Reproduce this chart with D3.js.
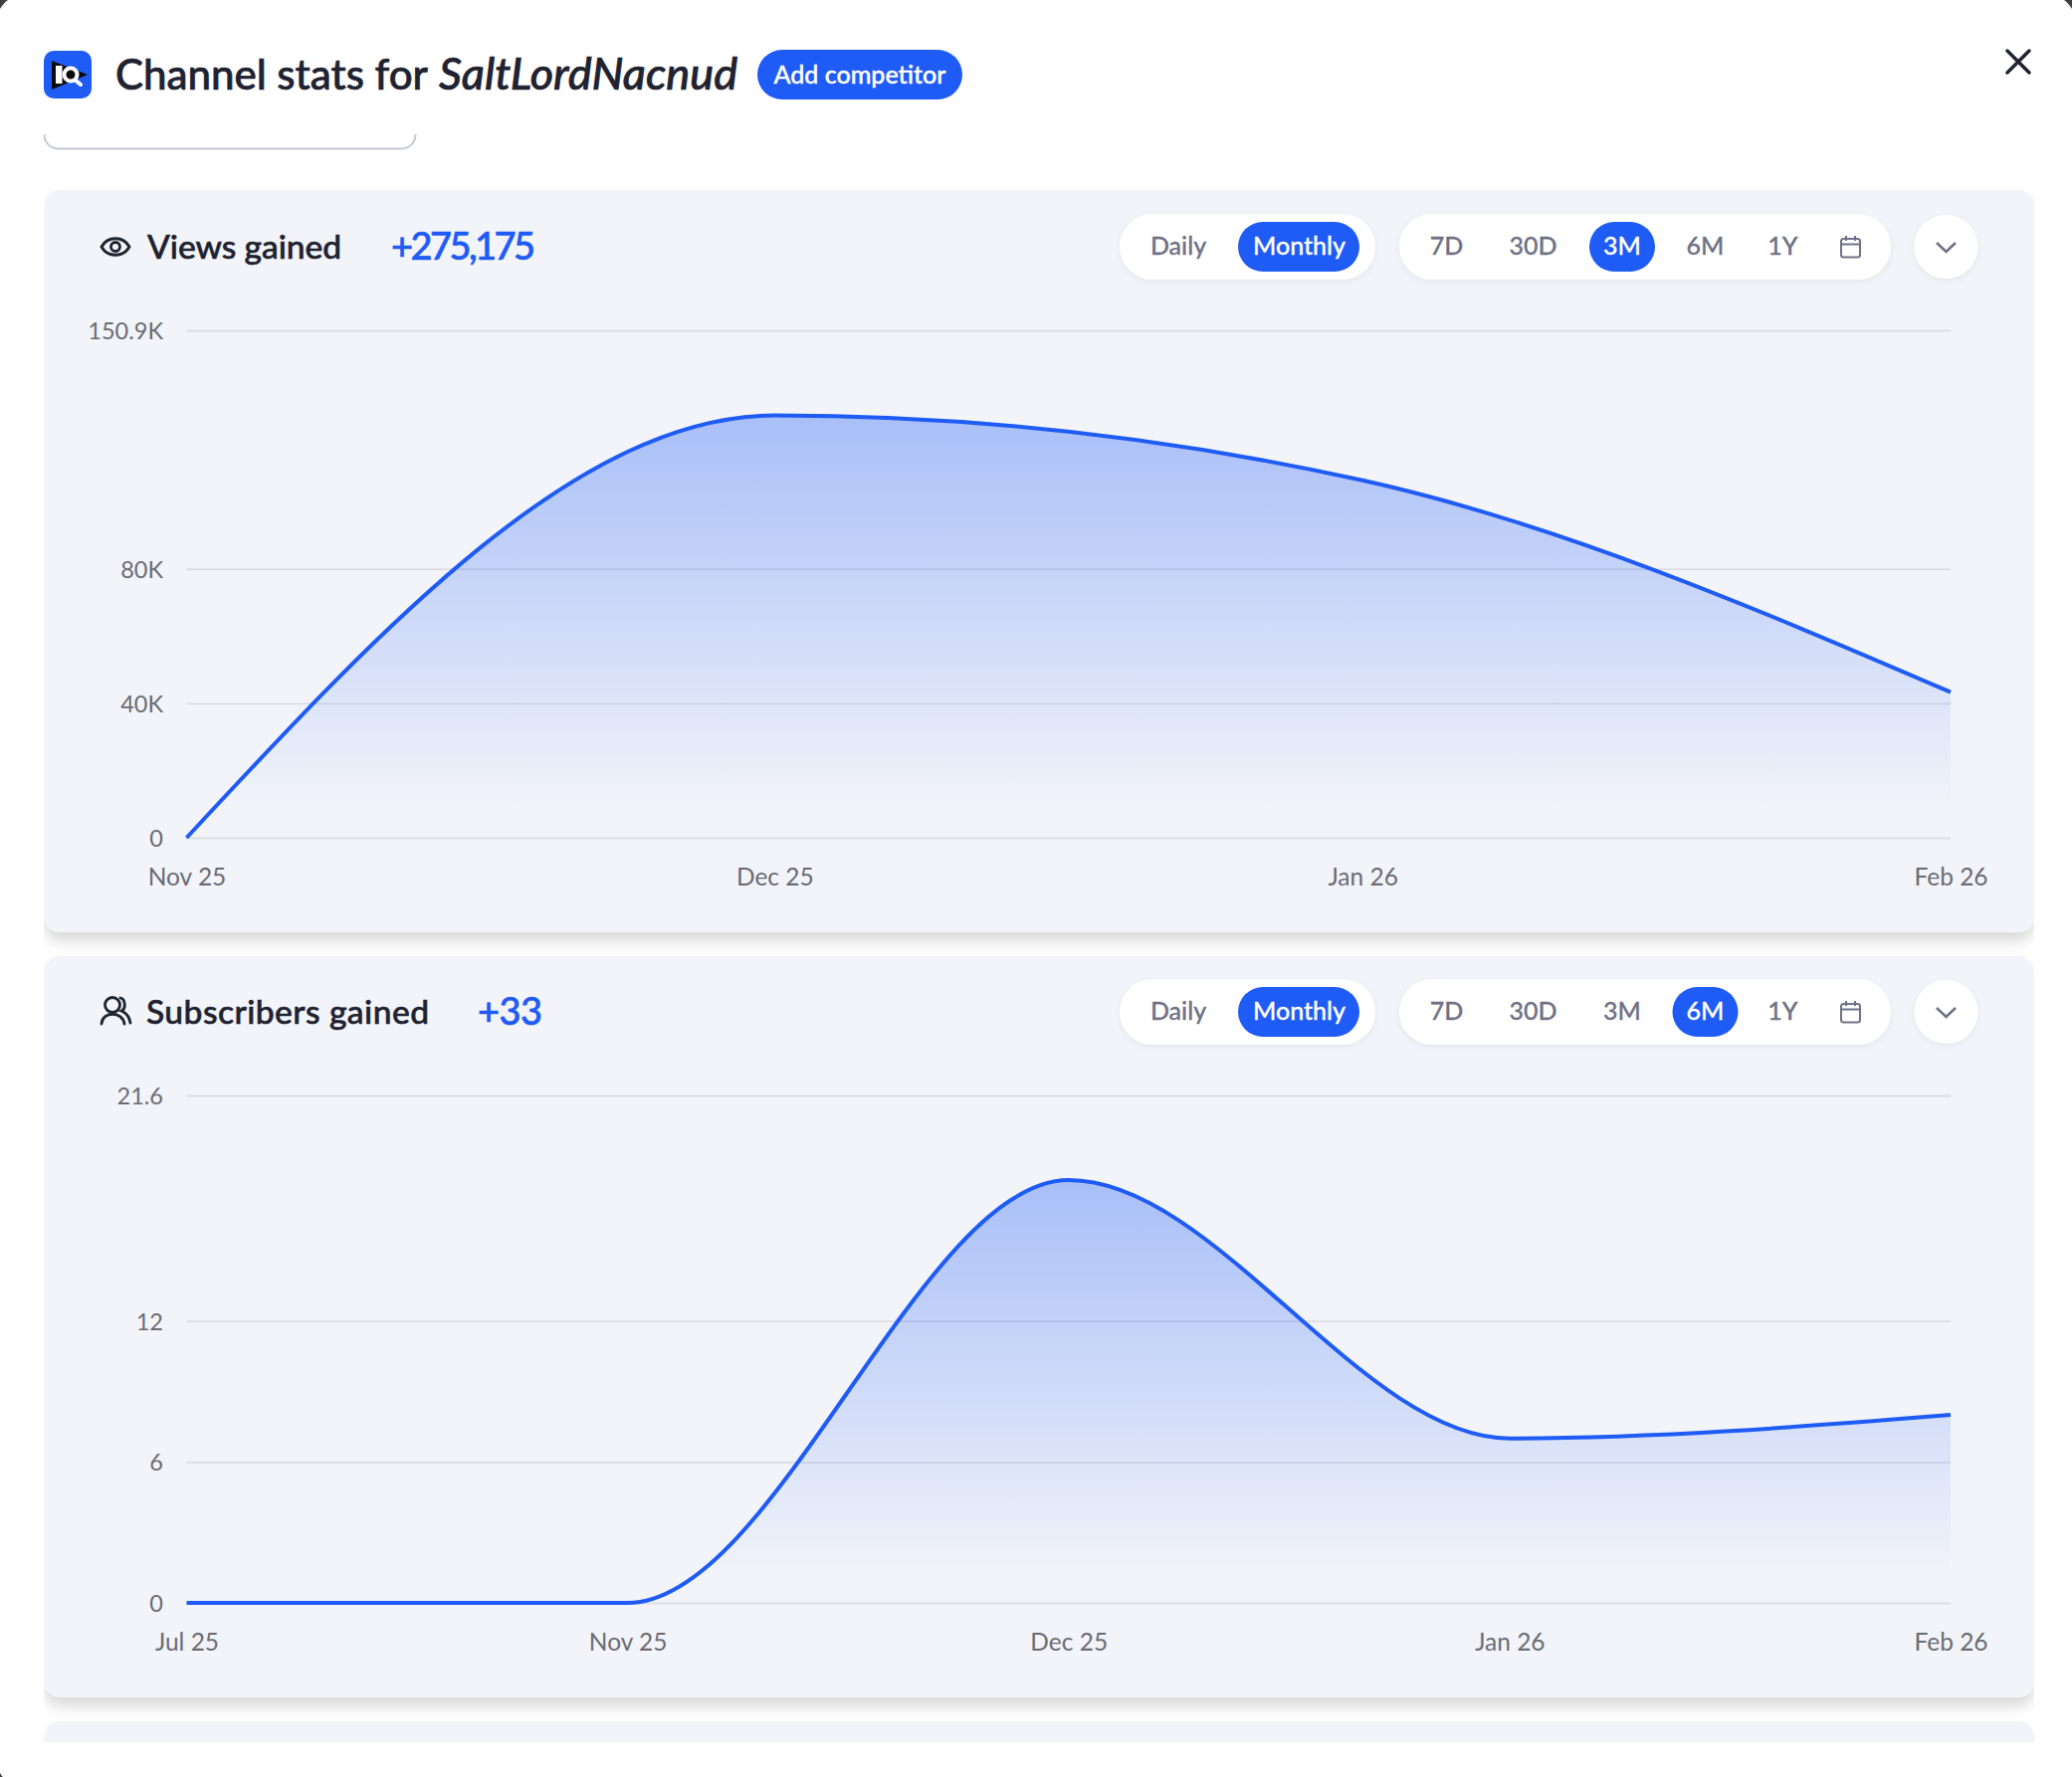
<!DOCTYPE html>
<head>
  <meta charset="utf-8">
  <script src="https://d3js.org/d3.v7.min.js"></script>
  <style>
    html, body { margin: 0; padding: 0; background: #3f3f43; }
    svg { display: block; }
    text { font-family: Lato, "Noto Sans", sans-serif; }
    .tick text { fill: #6b6c73; font-size: 24.5px; }
    .yaxis .tick text { font-size: 23.5px; }
    .grid line { stroke: #dcdde2; stroke-width: 1.8px; }
  </style>
</head>

<body>
  <script>
    // chart data
    var viewsMonths = ['Nov 25', 'Dec 25', 'Jan 26', 'Feb 26'];
    var viewsValues = [0, 125600, 106275, 43300];
    var viewsTicks = [0, 40000, 80000, 150900];
    var viewsTickLabels = ['0', '40K', '80K', '150.9K'];

    var subsMonths = ['Jul 25', 'Nov 25', 'Dec 25', 'Jan 26', 'Feb 26'];
    var subsValues = [0, 0, 18, 7, 8];
    var subsTicks = [0, 6, 12, 21.6];
    var subsTickLabels = ['0', '6', '12', '21.6'];

    var modeLabels = ['Daily', 'Monthly'];
    var rangeLabels = ['7D', '30D', '3M', '6M', '1Y'];

    var blue = '#1f5bf5';
    var ink = '#1f2230';
    var pillText = '#6f7285';

    var svg = d3.select('body').append('svg')
      .attr('width', 2082)
      .attr('height', 1786);

    var defs = svg.append('defs');

    var shadow = defs.append('filter').attr('id', 'cardShadow')
      .attr('x', '-5%').attr('y', '-5%').attr('width', '110%').attr('height', '115%');
    shadow.append('feDropShadow')
      .attr('dx', 0).attr('dy', 9).attr('stdDeviation', 7)
      .attr('flood-color', '#000').attr('flood-opacity', 0.15);

    var pillShadow = defs.append('filter').attr('id', 'pillShadow')
      .attr('x', '-10%').attr('y', '-20%').attr('width', '120%').attr('height', '150%');
    pillShadow.append('feDropShadow')
      .attr('dx', 0).attr('dy', 2).attr('stdDeviation', 3)
      .attr('flood-color', '#000').attr('flood-opacity', 0.06);

    var fade = defs.append('linearGradient').attr('id', 'areaFade')
      .attr('x1', 0).attr('y1', 0).attr('x2', 0).attr('y2', 1);
    fade.append('stop').attr('offset', '0%').attr('stop-color', blue).attr('stop-opacity', 0.35);
    fade.append('stop').attr('offset', '94%').attr('stop-color', blue).attr('stop-opacity', 0);

    defs.append('clipPath').attr('id', 'scrollClip').append('rect')
      .attr('x', 44).attr('y', 135).attr('width', 2000).attr('height', 1616);

    // the white modal over the dark page
    svg.append('rect').attr('x', -4).attr('y', -6).attr('width', 2090).attr('height', 1803)
      .attr('rx', 30).attr('fill', '#fff');
    svg.append('rect').attr('x', 1000).attr('y', 1700).attr('width', 1082).attr('height', 86)
      .attr('fill', '#fff');

    drawHeader();

    var scroll = svg.append('g').attr('clip-path', 'url(#scrollClip)');

    // stub of the input box scrolled out of view
    scroll.append('rect').attr('x', 44.5).attr('y', 90).attr('width', 373).attr('height', 59.5)
      .attr('rx', 14).attr('fill', 'none').attr('stroke', '#c4c7d4').attr('stroke-width', 2);

    drawCard(191, 746);
    drawCard(961, 745);
    drawCard(1730, 120);

    drawCardHeader(0, 'Views gained', 195, '+275,175', 148, 393, 145, drawEye, '3M');
    drawCardHeader(769, 'Subscribers gained', 284, '+33', 147, 480, 65, drawPeople, '6M');

    drawChart(viewsMonths, viewsValues, viewsTicks, viewsTickLabels, 842, 332);
    drawChart(subsMonths, subsValues, subsTicks, subsTickLabels, 1611, 1101);

    // Lato has no medium cut here, so thicken the regular one a little
    function medium(sel, color, w) {
      return sel.attr('stroke', color).attr('stroke-width', w || 0.5);
    }

    function drawCard(y, h) {
      scroll.append('rect').attr('x', 44.5).attr('y', y).attr('width', 1999.5).attr('height', h)
        .attr('rx', 16).attr('fill', '#f2f4f9').attr('filter', 'url(#cardShadow)');
    }

    function drawChart(months, values, ticks, tickLabels, bottom, top) {
      var x = d3.scalePoint().domain(d3.range(months.length)).range([187.5, 1960]);
      var y = d3.scaleLinear().domain([0, ticks[ticks.length - 1]]).range([bottom, top]);
      var g = scroll.append('g');

      var yAxis = d3.axisLeft(y)
        .tickValues(ticks)
        .tickSize(0)
        .tickPadding(23.5)
        .tickFormat(function(d, i) { return tickLabels[i]; });
      g.append('g').attr('class', 'yaxis').attr('transform', 'translate(187.5,1)').call(yAxis)
        .call(function(s) { s.select('.domain').remove(); });

      var grid = d3.axisLeft(y).tickValues(ticks).tickSize(-(1960 - 187.5)).tickFormat('');
      g.append('g').attr('class', 'grid').attr('transform', 'translate(187.5,0)').call(grid)
        .call(function(s) { s.select('.domain').remove(); });

      var xAxis = d3.axisBottom(x)
        .tickSize(0)
        .tickPadding(31)
        .tickFormat(function(i) { return months[i]; });
      g.append('g').attr('transform', 'translate(0,' + bottom + ')').call(xAxis)
        .call(function(s) { s.select('.domain').remove(); });

      var area = d3.area()
        .x(function(d, i) { return x(i); })
        .y0(y(0))
        .y1(function(d) { return y(d); })
        .curve(d3.curveMonotoneX);
      var line = d3.line()
        .x(function(d, i) { return x(i); })
        .y(function(d) { return y(d); })
        .curve(d3.curveMonotoneX);

      g.append('path').datum(values).attr('d', area).attr('fill', 'url(#areaFade)');
      g.append('path').datum(values).attr('d', line)
        .attr('fill', 'none').attr('stroke', blue).attr('stroke-width', 4);
    }

    function drawHeader() {
      // logo
      svg.append('rect').attr('x', 44).attr('y', 51).attr('width', 48).attr('height', 48)
        .attr('rx', 10).attr('fill', blue);
      svg.append('path').attr('d', 'M52 61 L88 75 L52 90 Z').attr('fill', '#0b0b0f');
      svg.append('rect').attr('x', 56).attr('y', 66).attr('width', 6.5).attr('height', 18).attr('fill', '#fff');
      svg.append('path').attr('d', 'M75 80 L81 85').attr('stroke', '#fff').attr('stroke-width', 4).attr('stroke-linecap', 'round');
      svg.append('circle').attr('cx', 71).attr('cy', 75).attr('r', 6.5)
        .attr('fill', '#0b0b0f').attr('stroke', '#fff').attr('stroke-width', 4);

      medium(svg.append('text').attr('x', 116).attr('y', 90)
        .attr('font-size', 42).attr('font-weight', 500).attr('fill', ink)
        .text('Channel stats for'), ink, 0.7);
      medium(svg.append('text').attr('x', 441).attr('y', 90)
        .attr('font-size', 45).attr('font-weight', 500).attr('font-style', 'italic').attr('fill', ink)
        .text('SaltLordNacnud'), ink, 0.7);

      svg.append('rect').attr('x', 761).attr('y', 50).attr('width', 206).attr('height', 50)
        .attr('rx', 25).attr('fill', blue);
      medium(svg.append('text').attr('x', 864).attr('y', 84).attr('text-anchor', 'middle')
        .attr('font-size', 25).attr('font-weight', 500).attr('fill', '#fff').text('Add competitor'), '#fff', 0.4);

      // close button
      svg.append('path').attr('d', 'M2017 51 L2039 73 M2039 51 L2017 73')
        .attr('stroke', ink).attr('stroke-width', 3.4).attr('stroke-linecap', 'round');
    }

    function drawEye(g) {
      g.append('path').attr('d', 'M-14 0 C-8 -11 8 -11 14 0 C8 11 -8 11 -14 0 Z')
        .attr('fill', 'none').attr('stroke', ink).attr('stroke-width', 2.8);
      g.append('circle').attr('r', 4.5).attr('fill', 'none').attr('stroke', ink).attr('stroke-width', 2.8);
    }

    function drawPeople(g) {
      g.append('circle').attr('cx', -3).attr('cy', -7).attr('r', 7.5)
        .attr('fill', 'none').attr('stroke', ink).attr('stroke-width', 2.8);
      g.append('path').attr('d', 'M-14 12 C-13 -1 7 -1 9 12 M5 -14 C10 -13 11 -3 6 -1 C11 1 14 5 15 11')
        .attr('fill', 'none').attr('stroke', ink).attr('stroke-width', 2.8).attr('stroke-linecap', 'round');
    }

    function drawCardHeader(dy, name, nameW, total, nameX, totalX, totalW, icon, activeRange) {
      var g = scroll.append('g').attr('transform', 'translate(0,' + dy + ')');
      icon(g.append('g').attr('transform', 'translate(116,248)'));

      medium(g.append('text').attr('x', nameX).attr('y', 260)
        .attr('font-size', 33.6).attr('font-weight', 500).attr('fill', ink)
        .attr('textLength', nameW).attr('lengthAdjust', 'spacing').text(name), ink, 0.6);
      medium(g.append('text').attr('x', totalX).attr('y', 261)
        .attr('font-size', 38).attr('font-weight', 500).attr('fill', blue)
        .attr('textLength', totalW).attr('lengthAdjust', 'spacing').text(total), blue, 0.6);

      // Daily / Monthly toggle
      g.append('rect').attr('x', 1125).attr('y', 215).attr('width', 257).attr('height', 66)
        .attr('rx', 33).attr('fill', '#fff').attr('filter', 'url(#pillShadow)');
      g.append('rect').attr('x', 1244).attr('y', 223).attr('width', 122).attr('height', 50)
        .attr('rx', 25).attr('fill', blue);
      g.selectAll('.mode').data(modeLabels).enter().append('text')
        .attr('x', function(d, i) { return [1184, 1305.5][i]; })
        .attr('y', 256)
        .attr('text-anchor', 'middle').attr('font-size', 25).attr('font-weight', 500)
        .attr('fill', function(d) { return d === 'Monthly' ? '#fff' : pillText; })
        .attr('stroke', function(d) { return d === 'Monthly' ? '#fff' : pillText; })
        .attr('stroke-width', 0.3)
        .text(function(d) { return d; });

      // range picker
      var rangeX = [1453.5, 1540.5, 1630, 1713.5, 1791.5];
      var rangeW = [0, 0, 66, 66, 0];
      var active = rangeLabels.indexOf(activeRange);
      g.append('rect').attr('x', 1406).attr('y', 215).attr('width', 494).attr('height', 66)
        .attr('rx', 33).attr('fill', '#fff').attr('filter', 'url(#pillShadow)');
      g.append('rect').attr('x', rangeX[active] - rangeW[active] / 2).attr('y', 223)
        .attr('width', rangeW[active]).attr('height', 50).attr('rx', 25).attr('fill', blue);
      g.selectAll('.range').data(rangeLabels).enter().append('text')
        .attr('x', function(d, i) { return rangeX[i]; })
        .attr('y', 256)
        .attr('text-anchor', 'middle').attr('font-size', 25).attr('font-weight', 500)
        .attr('fill', function(d) { return d === activeRange ? '#fff' : pillText; })
        .attr('stroke', function(d) { return d === activeRange ? '#fff' : pillText; })
        .attr('stroke-width', 0.3)
        .text(function(d) { return d; });

      // calendar icon
      g.append('rect').attr('x', 1850).attr('y', 240).attr('width', 19).attr('height', 18.5)
        .attr('rx', 2.5).attr('fill', 'none').attr('stroke', pillText).attr('stroke-width', 2);
      g.append('path').attr('d', 'M1850 245.5 H1869 M1855 237 V242 M1864 237 V242')
        .attr('fill', 'none').attr('stroke', pillText).attr('stroke-width', 2);

      // collapse button
      g.append('circle').attr('cx', 1955.5).attr('cy', 248).attr('r', 32)
        .attr('fill', '#fff').attr('filter', 'url(#pillShadow)');
      g.append('path').attr('d', 'M1946 244 L1955.5 253 L1965 244')
        .attr('fill', 'none').attr('stroke', pillText).attr('stroke-width', 2.6);
    }
  </script>
</body>
